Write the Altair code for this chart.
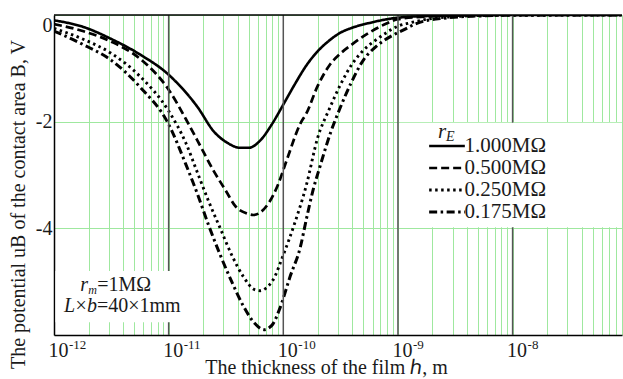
import altair as alt
import pandas as pd

SERIF = "Liberation Serif"
TXT = "#1a1a1a"
GREEN = "#9fe89f"

# ---- data ----
series_labels = ["1.000MΩ", "0.500MΩ", "0.250MΩ", "0.175MΩ"]

exp_100 = [-12.0, -11.75, -11.5, -11.25, -11.0, -10.75, -10.6, -10.5, -10.375, -10.3, -10.2,
           -10.1, -10.0, -9.9, -9.8, -9.7, -9.6, -9.5, -9.4, -9.25, -9.0, -8.75, -8.5, -8.0, -7.05]
u_100 = [-0.10, -0.22, -0.45, -0.74, -1.12, -1.72, -2.2, -2.38, -2.49, -2.49, -2.35,
         -2.05, -1.68, -1.3, -0.95, -0.68, -0.48, -0.33, -0.24, -0.15, -0.05, -0.02, -0.01, 0.0, 0.0]

exp_050 = [-12.0, -11.75, -11.5, -11.25, -11.0, -10.85, -10.75, -10.6, -10.5, -10.42, -10.32, -10.26,
           -10.2, -10.12, -10.05, -9.97, -9.85, -9.8, -9.7, -9.6, -9.5, -9.4, -9.25, -9.1, -9.0,
           -8.75, -8.5, -8.0, -7.05]
u_050 = [-0.17, -0.3, -0.5, -0.82, -1.4, -1.95, -2.35, -2.95, -3.3, -3.58, -3.72, -3.75,
         -3.7, -3.5, -3.2, -2.72, -2.03, -1.85, -1.33, -0.95, -0.72, -0.55, -0.33, -0.16, -0.08,
         -0.03, -0.01, 0.0, 0.0]

exp_025 = [-12.0, -11.75, -11.5, -11.25, -11.0, -10.85, -10.75, -10.65, -10.55, -10.45, -10.35, -10.25,
           -10.2, -10.15, -10.09, -10.0, -9.9, -9.8, -9.7, -9.6, -9.5, -9.4, -9.3, -9.2, -9.1, -9.0,
           -8.9, -8.75, -8.5, -8.25, -7.05]
u_025 = [-0.25, -0.45, -0.72, -1.15, -1.8, -2.4, -2.95, -3.5, -4.0, -4.5, -4.9, -5.15,
         -5.17, -5.12, -4.97, -4.5, -3.9, -3.2, -2.3, -1.77, -1.3, -0.92, -0.66, -0.48, -0.33, -0.21,
         -0.15, -0.08, -0.03, -0.01, 0.0]

exp_0175 = [-12.0, -11.75, -11.5, -11.25, -11.0, -10.85, -10.75, -10.65, -10.55, -10.45, -10.35, -10.25,
            -10.17, -10.1, -10.03, -9.94, -9.85, -9.8, -9.74, -9.68, -9.59, -9.5, -9.41, -9.3, -9.19,
            -9.07, -8.95, -8.84, -8.6, -8.25, -8.0, -7.05]
u_0175 = [-0.3, -0.55, -0.85, -1.35, -2.05, -2.8, -3.35, -3.95, -4.5, -5.0, -5.45, -5.78,
          -5.9, -5.82, -5.5, -4.9, -4.34, -3.84, -3.28, -2.84, -2.22, -1.72, -1.28, -0.84, -0.59,
          -0.41, -0.28, -0.16, -0.06, -0.015, 0.0, 0.0]

decade_lines = [1e-11, 1e-10, 1e-9, 1e-8]
x_tick_exps = [-12, -11, -10, -9, -8]
x_tick_base = "10"
x_tick_exp_labels = ["-12", "-11", "-10", "-9", "-8"]
y_ticks = [0, -2, -4]

rows = []
for lab, ex, us in zip(series_labels, [exp_100, exp_050, exp_025, exp_0175],
                       [u_100, u_050, u_025, u_0175]):
    for e, u in zip(ex, us):
        rows.append({"series": lab, "h": 10 ** e, "u": u})
df = pd.DataFrame(rows)

minor_grid = [k * 10.0 ** n for n in range(-12, -7) for k in range(1, 10) if k * 10.0 ** n <= 9.01e-8]

xscale = alt.Scale(type="log", domain=[1e-12, 9e-8])
yscale = alt.Scale(domain=[-6, 0], nice=False, zero=False)

L = "round(log(datum.value)/LN10*1000)/1000"
label_expr = f"abs({L} - round({L})) < 0.0001 ? '{x_tick_base}' : ''"

x_axis = alt.Axis(values=minor_grid, grid=True, gridColor=GREEN, gridWidth=1, ticks=False,
                  labelExpr=label_expr, labelFont=SERIF, labelFontSize=20, labelColor=TXT,
                  labelAlign="center", labelOffset=4, labelPadding=5, labelFlush=False,
                  labelOverlap=False, domainColor="black", domainWidth=1.5,
                  title="The thickness of the film ℎ, m", titleFont=SERIF, titleFontSize=20,
                  titleFontWeight="normal", titleColor=TXT, titleX=272, titleY=38,
                  titleAlign="center", titleBaseline="alphabetic")
y_axis = alt.Axis(values=y_ticks, grid=True, gridColor=GREEN, gridWidth=1, ticks=False,
                  labelExpr="datum.value == 0 ? '0' : '-' + (-datum.value)",
                  labelFont=SERIF, labelFontSize=20, labelColor=TXT, labelPadding=2,
                  labelFlush=True, domainColor="black", domainWidth=1.5,
                  title="The potential uB of the contact area B, V", titleFont=SERIF,
                  titleFontSize=20, titleFontWeight="normal", titleColor=TXT,
                  titleAngle=270, titleX=-36, titleY=189, titleAlign="center",
                  titleBaseline="middle")

one = pd.DataFrame({"a": [0]})

lines = alt.Chart(df).mark_line(color="black", interpolate="monotone", clip=True).encode(
    x=alt.X("h:Q", scale=xscale, axis=x_axis),
    y=alt.Y("u:Q", scale=yscale, axis=y_axis),
    strokeDash=alt.StrokeDash("series:N", sort=series_labels,
                              scale=alt.Scale(domain=series_labels,
                                              range=[[1, 0], [8, 4], [2.5, 3.5], [8, 3.5, 2.5, 3.5]]),
                              legend=alt.Legend(orient="none", legendX=381, legendY=119, title=None,
                                                labelFont=SERIF, labelFontSize=21, labelColor=TXT,
                                                symbolType="M-1.7,0H1.7", symbolSize=441,
                                                symbolStrokeWidth=2.6, symbolStrokeColor="black",
                                                rowPadding=0, padding=0, labelOffset=5.5)),
    strokeWidth=alt.StrokeWidth("series:N", sort=series_labels,
                                scale=alt.Scale(domain=series_labels, range=[2.6, 3.0, 2.6, 3.4]),
                                legend=None),
    detail="series:N",
)

decades = alt.Chart(pd.DataFrame({"h": decade_lines})).mark_rule(
    color="#555555", strokeWidth=1.5).encode(x=alt.X("h:Q", scale=xscale))

top_border = alt.Chart(one).mark_rule(color="black", strokeWidth=1.5).encode(
    y=alt.Y(datum=0, scale=yscale))

boxes = alt.Chart(pd.DataFrame({
    "h": [1.03e-9, 1.03e-12], "h2": [9e-8, 1.38e-11],
    "u": [-2.02, -4.80], "u2": [-3.98, -5.76]})).mark_rect(color="white").encode(
    x=alt.X("h:Q", scale=xscale), x2="h2:Q",
    y=alt.Y("u:Q", scale=yscale), y2="u2:Q")

exponents = alt.Chart(pd.DataFrame({"h": [10.0 ** e for e in x_tick_exps],
                                    "t": x_tick_exp_labels})).mark_text(
    align="left", baseline="alphabetic", font=SERIF, fontSize=13, dx=15, dy=14, color=TXT).encode(
    x=alt.X("h:Q", scale=xscale), y=alt.Y(datum=-6, scale=yscale), text="t:N")


def piece(h, u, txt, size=20, italic=False, dx=0, dy=0):
    return alt.Chart(one).mark_text(
        align="left", baseline="alphabetic", font=SERIF, fontSize=size,
        fontStyle="italic" if italic else "normal", dx=dx, dy=dy, color=TXT).encode(
        x=alt.X(datum=h, scale=xscale), y=alt.Y(datum=u, scale=yscale),
        text=alt.value(txt))


texts = [
    piece(1.69e-12, -5.17, "r", italic=True),
    piece(1.69e-12, -5.17, "m", size=12, italic=True, dx=8, dy=3),
    piece(1.69e-12, -5.17, "=1MΩ", dx=17),
    piece(1.22e-12, -5.56, "L", italic=True),
    piece(1.22e-12, -5.56, "×", dx=11.5),
    piece(1.22e-12, -5.56, "b", italic=True, dx=23),
    piece(1.22e-12, -5.56, "=40×1mm", dx=33),
    piece(2.23e-9, -2.306, "r", size=21, italic=True),
    piece(2.23e-9, -2.306, "E", size=14, italic=True, dx=8, dy=3),
]

chart = alt.layer(lines, decades, boxes, top_border, exponents, *texts).properties(
    width=568, height=320,
    padding={"left": 54, "top": 15, "right": 1, "bottom": 44},
    autosize=alt.AutoSizeParams(type="none"),
    background="white",
).configure_view(stroke=None)

chart.save("out.html", embed_options={"renderer": "svg", "actions": False})
